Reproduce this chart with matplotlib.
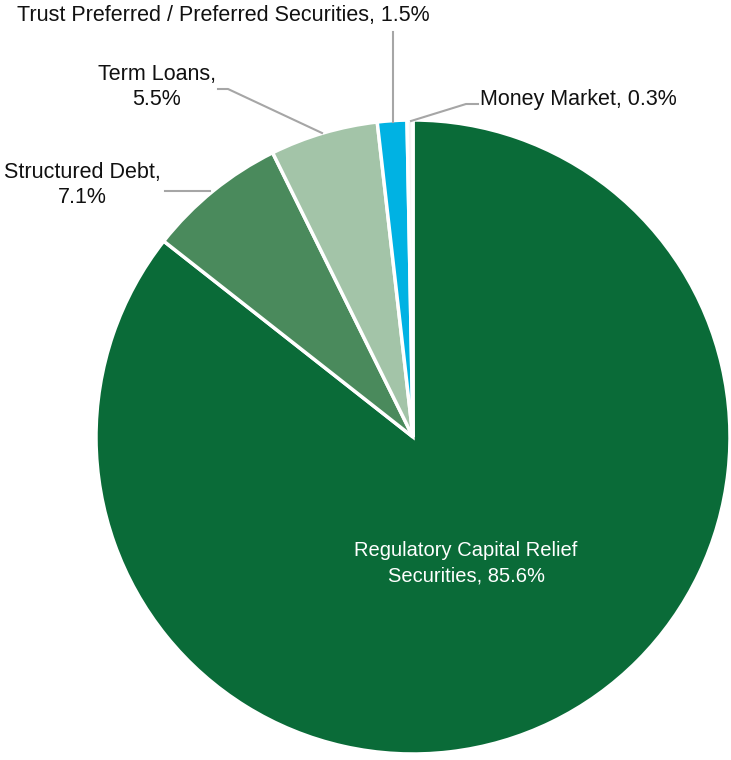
import matplotlib
matplotlib.use("Agg")
import matplotlib.pyplot as plt

categories = ["Regulatory Capital Relief\nSecurities", "Structured Debt,\n", "Term Loans,\n",
              "Trust Preferred / Preferred Securities, ", "Money Market, "]
values = [85.6, 7.1, 5.5, 1.5, 0.3]
colors = ["#0a6b38", "#4a8a5c", "#a3c4a8", "#00b2e3", "#f4f4f4"]

plt.rcParams['font.family'] = ['Liberation Sans', 'DejaVu Sans']
fig = plt.figure(figsize=(7.31, 7.60), dpi=100)
ax = fig.add_axes([0, 0, 1, 1])

H = 760
cx, cy, r = 413, H - 437, 317
ax.pie(values, colors=colors, startangle=90, counterclock=False, center=(cx, cy), radius=r,
       wedgeprops=dict(edgecolor='white', linewidth=2.5), frame=True)
ax.set_xlim(0, 731)
ax.set_ylim(0, 760)
ax.set_aspect('equal')
ax.axis('off')

fs = 15.5
lc = '#a6a6a6'
tc = '#111111'
def Y(y):
    return H - y

# Regulatory label
ax.text(466, Y(563), f"Regulatory Capital Relief\nSecurities, {values[0]}%", color='white',
        ha='center', va='center', fontsize=14.5, linespacing=1.4)
# Structured Debt
ax.text(82, Y(185), f"Structured Debt,\n{values[1]}%", ha='center', va='center', fontsize=fs,
        color=tc, linespacing=1.3)
ax.plot([165, 210], [Y(191), Y(191)], color=lc, lw=1.5)
# Term Loans
ax.text(157, Y(87), f"Term Loans,\n{values[2]}%", ha='center', va='center', fontsize=fs,
        color=tc, linespacing=1.3)
ax.plot([218, 228, 322], [Y(89), Y(89), Y(133)], color=lc, lw=1.5)
# Trust Preferred
ax.text(223, Y(15), f"Trust Preferred / Preferred Securities, {values[3]}%", ha='center', va='center',
        fontsize=fs, color=tc)
ax.plot([393, 393], [Y(32), Y(122)], color=lc, lw=1.5)
# Money Market
ax.text(480, Y(99), f"Money Market, {values[4]}%", ha='left', va='center', fontsize=fs, color=tc)
ax.plot([411, 466, 478], [Y(121), Y(104), Y(104)], color=lc, lw=1.5)

fig.savefig("out.png", dpi=100)
